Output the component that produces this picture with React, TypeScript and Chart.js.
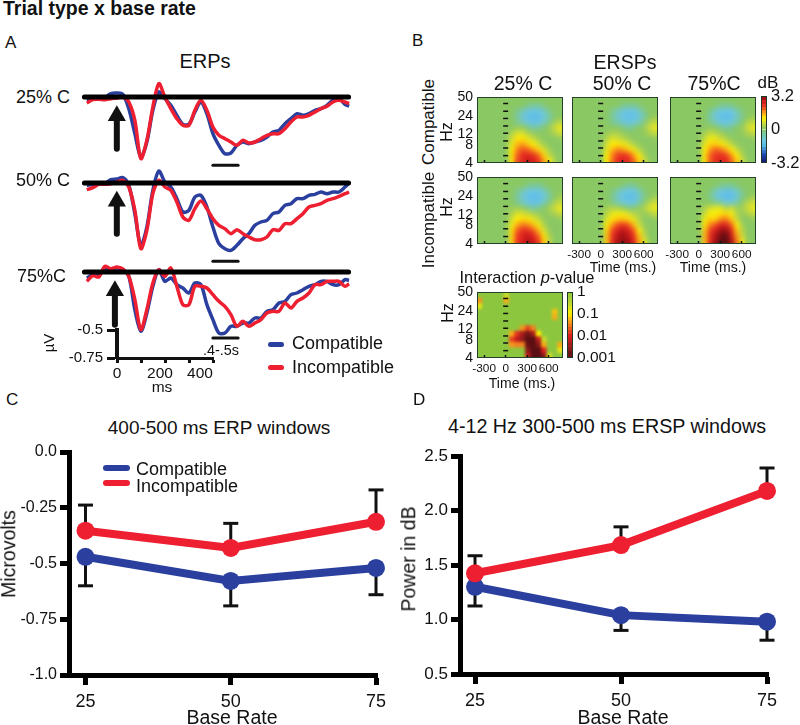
import React, { useEffect, useRef } from "react";
import { Chart, registerables } from "chart.js";

Chart.register(...registerables);
Chart.defaults.font.family = '"Liberation Sans", Arial, sans-serif';
Chart.defaults.color = "#111";

const BLUE = "#2b3f9e";
const RED = "#ed1f30";

/* ---------- Panel A: ERP traces (1/336 uV units) ---------- */
const UNITS_PER_UV = 336;
const erpTimes = [-125,-100,-75,-50,-25,0,25,50,75,100,125,150,175,200,225,250,275,300,325,350,375,400,425,450,475,500,525,550,575,600,625,650,675,700,725,750,775,800,825,850,875,900,925,950,967];
const erp25Blue = [-10,-6,-6,-2,10,12,8,-35,-110,-180,-135,-40,15,-5,-25,-55,-82,-82,-45,-15,-50,-110,-145,-170,-168,-145,-135,-140,-135,-130,-120,-105,-100,-80,-65,-50,-55,-50,-40,-35,-25,-10,-5,-22,-28];
const erp25Red = [-18,-8,-7,-8,-5,-3,0,-15,-70,-185,-130,-30,40,0,-35,-65,-85,-85,-40,-10,-40,-90,-115,-125,-135,-145,-130,-138,-135,-125,-115,-110,-110,-95,-75,-60,-60,-55,-45,-35,-28,-15,-10,-15,-20];
const erp50Blue = [-7,-4,-4,-2,10,12,16,-7,-92,-187,-132,-22,36,3,-12,-47,-87,-82,-42,-37,-72,-132,-182,-197,-202,-187,-167,-152,-127,-117,-112,-92,-87,-67,-62,-47,-47,-37,-34,-27,-32,-27,-27,-12,0];
const erp50Red = [-20,-14,-4,-4,-2,3,8,-12,-82,-197,-142,-32,8,-12,-22,-57,-102,-112,-77,-54,-77,-107,-127,-137,-152,-140,-152,-162,-170,-170,-162,-140,-142,-122,-122,-107,-92,-72,-67,-62,-52,-47,-40,-32,-27];
const erp75Blue = [-18,-8,-8,7,7,12,7,-13,-113,-178,-123,-43,7,-28,-18,-38,-48,-63,-33,-38,-98,-143,-183,-183,-163,-163,-153,-153,-138,-138,-118,-113,-93,-88,-68,-63,-53,-43,-38,-28,-28,-38,-38,-23,-25];
const erp75Red = [-28,-11,-15,17,10,15,9,-13,-83,-173,-113,-33,7,-13,12,-43,-98,-98,-43,-43,-48,-68,-88,-103,-128,-163,-148,-163,-153,-143,-123,-118,-118,-93,-108,-88,-78,-63,-38,-38,-28,-28,-28,-43,-35];
const erpBaselineSpan = [-135, 965];
const erpWindowSpan = [400, 505];
const erpWindowLevel = [-205, -235, -198];
const arrowTail = [-155, -152, -158];
const arrowHead = [-56, -55, -56];
const arrowTime = [0, 0, -8];

const scaleBarX = [0, 100, 200, 300, 400];
const scaleBarY = [-0.75, -0.5];

/* ---------- Panel B: ERSP maps (dB), 12 rows top (50 Hz) to bottom (4 Hz), 16 time columns ---------- */
const heatC25 = [
[0,0,0,0,0,0,0,0,0,0,0,0,0,0,0,0],
[0,0,0,0,0,0,0,0,0,-.3,-.4,-.4,-.2,0,0,0],
[0,0,0,0,0,0,0,-.3,-.7,-1,-1.2,-1.2,-.8,-.3,0,0],
[0,0,0,0,0,0,0,-.4,-.9,-1.3,-1.4,-1.4,-1,-.5,-.1,0],
[0,0,0,0,0,0,0,-.3,-.7,-1,-1.3,-1.2,-.8,-.3,.2,.4],
[0,0,0,0,0,0,0,.1,.1,-.2,-.5,-.4,-.1,.1,.6,.8],
[0,0,0,0,0,0,.3,.7,.7,.3,.1,0,0,.1,.3,.6],
[0,0,0,0,0,0,.6,1.1,1.1,.8,.5,.2,0,0,0,.1],
[0,0,0,0,0,0,.8,1.4,1.6,1.3,1,.6,.2,0,0,0],
[0,0,0,0,0,0,1,1.7,2,1.9,1.6,1.2,.7,.2,0,0],
[0,0,0,0,0,0,1.1,1.9,2.3,2.5,2.3,1.9,1.2,.5,.1,0],
[0,0,0,0,0,0,1.1,2,2.4,2.7,2.6,2.2,1.6,.9,.3,0],
];
const heatC50 = [
[0,0,0,0,0,0,0,0,0,0,0,0,0,0,0,0],
[0,0,0,0,0,0,0,0,0,-.3,-.4,-.4,-.2,0,0,0],
[0,0,0,0,0,0,0,-.3,-.7,-1,-1.2,-1.2,-.8,-.3,0,0],
[0,0,0,0,0,0,0,-.4,-.8,-1.2,-1.3,-1.3,-1,-.5,0,.1],
[0,0,0,0,0,0,0,-.3,-.6,-.9,-1.2,-1,-.7,-.2,.3,.5],
[0,0,0,0,0,0,0,0,0,-.2,-.4,-.3,0,.1,.6,.8],
[0,0,0,0,0,0,.1,.3,.3,.1,0,0,0,.1,.3,.5],
[0,0,0,0,0,0,.4,.7,.6,.4,.2,0,0,0,0,.1],
[0,0,0,0,0,0,.6,1,1.1,.9,.7,.3,.1,0,0,0],
[0,0,0,0,0,0,.8,1.4,1.7,1.6,1.3,.9,.4,.1,0,0],
[0,0,0,0,0,0,1,1.7,2.1,2.3,2.1,1.6,1,.3,0,0],
[0,0,0,0,0,0,1,1.8,2.3,2.5,2.4,1.9,1.3,.6,.1,0],
];
const heatC75 = [
[0,0,0,0,0,0,0,0,0,0,0,0,0,0,0,0],
[0,0,0,0,0,0,0,0,-.1,-.3,-.4,-.3,-.1,0,0,0],
[0,0,0,0,0,0,0,-.3,-.8,-1.1,-1.2,-1.1,-.6,-.2,0,0],
[0,0,0,0,0,0,0,-.5,-1,-1.3,-1.4,-1.3,-.8,-.3,0,.1],
[0,0,0,0,0,0,0,-.3,-.7,-1.1,-1.2,-1,-.6,-.1,.3,.5],
[0,0,0,0,0,0,0,.1,0,-.3,-.5,-.3,0,.1,.6,.8],
[0,0,0,0,0,0,.2,.5,.4,.2,0,-.1,0,.1,.3,.5],
[0,0,0,0,0,0,.5,.9,.8,.6,.3,.1,0,0,0,.1],
[0,0,0,0,0,0,.8,1.2,1.3,1.1,.8,.4,.1,0,0,0],
[0,0,0,0,0,0,1,1.6,1.9,1.8,1.5,1,.5,.1,0,0],
[0,0,0,0,0,0,1.1,1.9,2.2,2.3,2.1,1.6,1,.3,0,0],
[0,0,0,0,0,0,1.1,1.9,2.3,2.5,2.4,1.9,1.3,.6,.1,0],
];
const heatI25 = [
[0,0,0,0,0,0,0,0,0,0,0,0,0,0,0,0],
[0,0,0,0,0,0,0,0,0,-.3,-.4,-.4,-.2,0,0,0],
[0,0,0,0,0,0,0,-.3,-.7,-1.1,-1.2,-1.2,-.8,-.3,0,0],
[0,0,0,0,0,0,0,-.4,-.9,-1.3,-1.4,-1.4,-1,-.5,0,.2],
[0,0,0,0,0,0,0,-.3,-.7,-1.1,-1.3,-1.2,-.7,-.2,.3,.5],
[0,0,0,0,0,0,.1,.2,.1,-.2,-.5,-.3,0,.2,.6,.8],
[0,0,0,0,0,0,.3,.7,.7,.5,.3,.1,0,.1,.3,.5],
[0,0,0,0,0,0,.6,1,1.2,1.1,.8,.5,.1,0,0,.1],
[0,0,0,0,0,0,.9,1.5,1.8,1.7,1.4,.9,.3,0,0,0],
[0,0,0,0,0,0,1.1,1.9,2.3,2.3,2,1.4,.7,.1,0,0],
[0,0,0,0,0,0,1.2,2.1,2.5,2.7,2.5,1.9,1.1,.3,0,0],
[0,0,0,0,0,0,1.2,2.1,2.6,2.9,2.7,2.1,1.3,.5,0,0],
];
const heatI50 = [
[0,0,0,0,0,0,0,0,0,0,0,0,0,0,0,0],
[0,0,0,0,0,0,0,0,0,-.2,-.4,-.4,-.1,0,0,0],
[0,0,0,0,0,0,0,-.2,-.6,-1,-1.2,-1.2,-.7,-.2,0,0],
[0,0,0,0,0,0,0,-.3,-.8,-1.2,-1.4,-1.4,-.9,-.3,0,.2],
[0,0,0,0,0,0,0,-.2,-.6,-.9,-1.2,-1.1,-.6,-.1,.4,.6],
[0,0,0,0,0,0,.2,.3,.3,.1,-.2,-.2,.1,.3,.7,.8],
[0,0,0,0,0,0,.4,.8,.9,.9,.7,.4,.2,.1,.3,.5],
[0,0,0,0,0,0,.7,1.1,1.3,1.4,1.2,.8,.4,0,0,.1],
[0,0,0,0,0,0,1,1.6,2,2.2,2,1.4,.6,.1,0,0],
[0,0,0,0,0,0,1.2,2,2.6,2.8,2.6,2,1,.3,0,0],
[0,0,0,0,0,0,1.3,2.2,2.8,3,2.8,2.3,1.4,.5,0,0],
[0,0,0,0,0,0,1.3,2.3,2.9,3.1,3,2.5,1.6,.8,.1,0],
];
const heatI75 = [
[0,0,0,0,0,0,0,0,0,0,0,0,0,0,0,0],
[0,0,0,0,0,0,0,0,-.1,-.3,-.4,-.4,-.2,0,0,0],
[0,0,0,0,0,0,0,-.2,-.7,-1.1,-1.3,-1.3,-.8,-.3,0,0],
[0,0,0,0,0,0,0,-.3,-.8,-1.2,-1.4,-1.4,-1,-.3,0,.2],
[0,0,0,0,0,0,0,0,-.3,-.5,-.9,-.9,-.5,0,.4,.6],
[0,0,0,0,0,0,.3,.6,.8,.8,.3,.6,.2,.2,.6,.8],
[0,0,0,0,0,0,.5,1,.9,1.1,1.2,.9,.3,.1,.3,.5],
[0,0,0,0,0,0,.9,1.3,1.2,1.7,1.8,1.3,.6,0,0,.1],
[0,0,0,0,0,0,1.1,1.7,2,2.5,2.5,1.9,1,.2,0,0],
[0,0,0,0,0,0,1.3,2.1,2.6,3,3.1,2.4,1.3,.4,0,0],
[0,0,0,0,0,0,1.4,2.3,2.9,3.3,3.5,2.7,1.6,.6,0,0],
[0,0,0,0,0,0,1.4,2.4,3,3.5,3.6,2.9,1.8,.9,.1,0],
];
/* Interaction map: log10(p) */
const heatP = [
[0,0,0,0,0,-.6,0,0,0,0,0,0,0,0,0,0],
[-1.4,0,0,0,0,-1.3,0,0,0,0,0,0,0,0,0,0],
[-.8,0,0,0,0,0,0,0,0,0,0,0,0,0,0,0],
[0,0,0,0,0,0,0,0,0,0,0,0,0,0,-1.2,0],
[0,0,0,0,0,0,0,0,0,0,0,0,0,0,-1.3,0],
[0,0,0,0,0,0,0,0,0,0,0,0,0,0,0,0],
[0,0,0,0,0,0,0,0,-1.4,-1.8,-1.5,0,0,0,0,0],
[0,0,0,0,0,0,-1.3,-1.9,-2.4,-2.8,-2.4,-1,0,0,0,0],
[0,0,0,0,0,0,-1.8,-2.2,-2.6,-3,-3,-2.2,-.6,0,0,0],
[0,0,0,0,0,0,-1.4,-1.5,-1.5,-2.9,-3,-2.6,-1.3,0,0,-1.3],
[0,0,0,0,0,0,0,0,0,-2.6,-3,-3,-2,0,0,-.8],
[0,0,0,0,0,0,0,0,0,-2.2,-3,-3,-2.6,-.7,0,0],
];
const timeTicks = [-300, 0, 300, 600];
const hzTicks = [4, 8, 12, 24, 50];
const zeroDashHz = [39, 29, 22, 16.5, 12.5, 9.3, 7.1, 5.3];
const dbLevels = [-3.2,-2.9,-2.6,-2.3,-2,-1.7,-1.4,-1.1,-.8,-.5,-.25,0,.25,.5,.75,1,1.25,1.5,1.8,2.1,2.4,2.8,3.2];
const dbTicks = [-3.2, 0, 3.2];
const pLevels = [1,.8,.6,.45,.32,.22,.15,.1,.07,.05,.035,.025,.018,.012,.008,.005,.003,.002,.001];
const pTicks = [0.001, 0.01, 0.1, 1];

/* ---------- Panels C, D ---------- */
const baseRates = [25, 50, 75];
const erpCompat = [-0.47, -0.578, -0.52];
const erpIncompat = [-0.353, -0.43, -0.313];
const erpCompatLow = [-0.6, -0.69, -0.64];
const erpIncompatHigh = [-0.238, -0.32, -0.17];
const erpAxisTicks = [-1, -0.75, -0.5, -0.25, 0];
const erpAxisLabels = ["-1.0", "-0.75", "-0.5", "-0.25", "0.0"];
const powCompat = [1.3, 1.04, 0.98];
const powIncompat = [1.424, 1.683, 2.18];
const powCompatLow = [1.124, 0.9, 0.81];
const powIncompatHigh = [1.585, 1.85, 2.39];
const powAxisTicks = [0.5, 1, 1.5, 2, 2.5];

/* ---------- helpers ---------- */
type Rect = { l: number; t: number; r: number; b: number };
type Pad = { l: number; t: number; r: number; b: number };
const NOPAD: Pad = { l: 0, t: 0, r: 0, b: 0 };

const mix = (a: string, b: string, f: number) => {
  const p = (s: string, i: number) => parseInt(s.slice(1 + 2 * i, 3 + 2 * i), 16);
  const c = [0, 1, 2].map((i) => Math.round(p(a, i) + (p(b, i) - p(a, i)) * f));
  return `rgb(${c[0]},${c[1]},${c[2]})`;
};
const ramp = (stops: [number, string][], v: number) => {
  if (v <= stops[0][0]) return mix(stops[0][1], stops[0][1], 0);
  for (let i = 1; i < stops.length; i++) {
    if (v <= stops[i][0]) {
      const [a, ca] = stops[i - 1];
      const [b, cb] = stops[i];
      return mix(ca, cb, (v - a) / (b - a));
    }
  }
  return mix(stops[stops.length - 1][1], stops[stops.length - 1][1], 0);
};
const dbStops: [number, string][] = [
  [-3.2, "#16166e"], [-2.4, "#1f49b5"], [-1.6, "#58b8e6"], [-1.1, "#6dc7e4"], [-0.5, "#78c8a6"],
  [0, "#8ac864"], [0.6, "#cfdc3a"], [1, "#fff200"], [1.5, "#fbae17"], [2.1, "#ef3b24"], [2.6, "#d81f1f"], [3.0, "#a01015"], [3.5, "#5e0f12"],
];
const pStops: [number, string][] = [
  [-3, "#5a0f12"], [-2.6, "#8b1a1a"], [-2, "#e0201f"], [-1.4, "#f7941d"], [-1, "#fff200"], [-0.5, "#b9d532"], [0, "#8cc63f"],
];

const blurFrame = (blurPx: number, frameColor: string) => ({
  id: "blurFrame",
  beforeDraw(chart: any) { chart.$blurred = false; },
  beforeDatasetDraw(chart: any, args: any) {
    if (args.meta.type !== "scatter" || chart.$blurred) return;
    chart.$blurred = true;
    const { ctx, chartArea: a, canvas } = chart;
    ctx.save();
    ctx.beginPath();
    ctx.rect(a.left, a.top, a.right - a.left, a.bottom - a.top);
    ctx.clip();
    ctx.filter = `blur(${blurPx}px)`;
    ctx.drawImage(canvas, 0, 0, canvas.width, canvas.height);
    ctx.filter = "none";
    ctx.restore();
  },
  afterDraw(chart: any) {
    const { ctx, chartArea: a } = chart;
    ctx.save();
    ctx.strokeStyle = frameColor;
    ctx.lineWidth = 1;
    ctx.strokeRect(a.left + 0.5, a.top + 0.5, a.right - a.left - 1, a.bottom - a.top - 1);
    ctx.restore();
  },
});

type Spec = { rect: Rect; pad: Pad; config: any };

const noPad = (s: any) => { s.paddingTop = 0; s.paddingBottom = 0; s.paddingLeft = 0; s.paddingRight = 0; };
const fitX = (pad: Pad) => (s: any) => { s.height = pad.b; noPad(s); };
const fitY = (pad: Pad) => (s: any) => { s.width = pad.l; noPad(s); };
const setTicks = (vals: number[]) => (s: any) => { s.ticks = vals.map((value) => ({ value })); };

function erpSpec(base: number, idx: number, blue: number[], red: number[]): Spec {
  const toXY = (arr: number[]) => erpTimes.map((x, i) => ({ x, y: arr[i] / UNITS_PER_UV }));
  const line = (d: any[], color: string, w: number, order: number, extra = {}) => ({
    data: d, borderColor: color, backgroundColor: color, borderWidth: w, pointRadius: 0, order, ...extra,
  });
  return {
    rect: { l: 82, t: base - 20, r: 351, b: base + 80 },
    pad: NOPAD,
    config: {
      type: "line",
      data: {
        datasets: [
          line(toXY(blue), BLUE, 3.5, 3, { tension: 0.3 }),
          line(toXY(red), RED, 3.5, 2, { tension: 0.3 }),
          line(erpBaselineSpan.map((x) => ({ x, y: 0 })), "#000", 5, 1, { borderCapStyle: "round" }),
          line(erpWindowSpan.map((x) => ({ x, y: erpWindowLevel[idx] / UNITS_PER_UV })), "#111", 3, 1, { borderCapStyle: "round" }),
          line(
            [{ x: arrowTime[idx], y: arrowTail[idx] / UNITS_PER_UV }, { x: arrowTime[idx], y: arrowHead[idx] / UNITS_PER_UV }],
            "#111", 6, 0,
            { pointRadius: [0, 10.5], pointStyle: "triangle", borderCapStyle: "round", pointBorderWidth: 0 },
          ),
        ],
      },
      options: {
        scales: {
          x: { type: "linear", display: false, min: -145, max: 975 },
          y: { type: "linear", display: false, min: -240 / UNITS_PER_UV, max: 60 / UNITS_PER_UV },
        },
      },
    },
  };
}

function scaleBarSpec(): Spec {
  const pad: Pad = { l: 60, t: 8, r: 6, b: 12 };
  return {
    rect: { l: 117, t: 330, r: 213, b: 358 },
    pad,
    config: {
      type: "line",
      data: { datasets: [] },
      options: {
        scales: {
          x: {
            type: "linear", min: 0, max: 400, afterFit: fitX(pad), afterBuildTicks: setTicks(scaleBarX),
            grid: { drawOnChartArea: false, tickLength: 5, tickWidth: 3, tickColor: "#111" },
            border: { display: true, width: 3, color: "#111" },
            ticks: { display: false },
          },
          y: {
            type: "linear", min: -0.75, max: -0.5, afterFit: fitY(pad), afterBuildTicks: setTicks(scaleBarY),
            grid: { drawOnChartArea: false, tickLength: 10, tickWidth: 3, tickColor: "#111" },
            border: { display: true, width: 4, color: "#111" },
            ticks: { font: { size: 15 }, padding: 4, color: "#111", callback: (v: number) => (v === -0.5 ? "-0.5" : "-0.75") },
          },
        },
      },
    },
  };
}

function heatSpec(rect: Rect, rows: number[][], color: (v: number) => string, showY: boolean, showX: boolean, blur: number): Spec {
  const pad: Pad = { l: 36, t: 9, r: 4, b: 26 };
  const cols = rows[0].map((_, i) => String(i));
  const bars = rows.map((row, r) => ({
    type: "bar",
    data: row.map(() => [r, r + 1]),
    backgroundColor: row.map(color),
    borderWidth: 0,
    barPercentage: 1,
    categoryPercentage: 1,
    grouped: false,
    xAxisID: "xc",
    yAxisID: "yr",
    order: 2,
  }));
  const dashes = {
    type: "scatter",
    data: zeroDashHz.map((y) => ({ x: 0, y })),
    xAxisID: "x",
    yAxisID: "y",
    pointStyle: "line",
    pointRadius: 2.5,
    borderColor: "#111",
    backgroundColor: "#111",
    pointBorderWidth: 1.5,
    order: 1,
  };
  return {
    rect,
    pad,
    config: {
      type: "bar",
      data: { labels: cols, datasets: [...bars, dashes] },
      plugins: [blurFrame(blur, "#23402a")],
      options: {
        scales: {
          xc: { type: "category", axis: "x", position: "bottom", offset: true, display: false },
          yr: { type: "linear", axis: "y", position: "left", reverse: true, min: 0, max: rows.length, display: false },
          x: {
            type: "linear", position: "bottom", offset: false, min: -400, max: 800, afterFit: fitX(pad), afterBuildTicks: setTicks(timeTicks),
            grid: { offset: false, drawOnChartArea: false, tickLength: -3, tickWidth: 1.5, tickColor: "#111", z: 2 },
            border: { display: false },
            ticks: { display: showX, z: 2, font: { size: 11.8 }, padding: 7, maxRotation: 0, autoSkip: false, callback: (v: number) => String(v) },
          },
          y: {
            type: "logarithmic", position: "left", min: 4, max: 50, afterFit: fitY(pad), afterBuildTicks: setTicks(hzTicks),
            grid: { drawOnChartArea: false, drawTicks: false, z: 2 },
            border: { display: false },
            ticks: { display: showY, z: 2, font: { size: 14 }, padding: 4, autoSkip: false, callback: (v: number) => String(v) },
          },
        },
      },
    },
  };
}

function barSpec(rect: Rect, levels: number[], ticks: number[], color: (lo: number, hi: number) => string, log: boolean, labelSize: number): Spec {
  const pad: Pad = { l: 0, t: 11, r: 46, b: 11 };
  const segs = levels.slice(1).map((v, i) => ({
    data: [[levels[i], v]],
    backgroundColor: color(levels[i], v),
    borderWidth: 0,
    barPercentage: 1,
    categoryPercentage: 1,
    grouped: false,
  }));
  return {
    rect,
    pad,
    config: {
      type: "bar",
      data: { labels: ["scale"], datasets: segs },
      plugins: [blurFrame(0, "#1f3a24")],
      options: {
        scales: {
          x: { type: "category", display: false, offset: true },
          y: {
            type: log ? "logarithmic" : "linear", position: "right",
            min: ticks[0], max: ticks[ticks.length - 1], afterBuildTicks: setTicks(ticks),
            afterFit: (s: any) => { s.width = pad.r; noPad(s); },
            grid: { drawOnChartArea: false, drawTicks: false },
            border: { display: false },
            ticks: { autoSkip: false, padding: 4, font: { size: labelSize }, callback: (v: number) => String(v) },
          },
        },
      },
    },
  };
}

function summarySpec(
  rect: Rect, xMin: number, xMax: number, yTicks: number[], yLabel: (v: number) => string,
  compat: number[], incompat: number[], low: number[], high: number[], ySize: number,
): Spec {
  const pad: Pad = { l: 60, t: 10, r: 14, b: 36 };
  const series = (vals: number[], color: string, order: number) => ({
    data: baseRates.map((x, i) => ({ x, y: vals[i] })),
    borderColor: color, backgroundColor: color, borderWidth: 8, pointRadius: 9, pointBorderWidth: 0, order, clip: false,
  });
  const bars = (vals: number[], ends: number[]) => baseRates.map((x, i) => ({
    data: [{ x, y: vals[i] }, { x, y: ends[i] }],
    borderColor: "#111", backgroundColor: "#111", borderWidth: 3,
    pointStyle: "line", pointRadius: [0, 7.5], pointBorderWidth: 3, order: 5, clip: false,
  }));
  return {
    rect,
    pad,
    config: {
      type: "line",
      data: { datasets: [series(compat, BLUE, 2), series(incompat, RED, 1), ...bars(compat, low), ...bars(incompat, high)] },
      options: {
        scales: {
          x: {
            type: "linear", min: xMin, max: xMax, afterFit: fitX(pad), afterBuildTicks: setTicks(baseRates),
            grid: { drawOnChartArea: false, tickLength: 10, tickWidth: 5, tickColor: "#000" },
            border: { display: true, width: 5, color: "#000" },
            ticks: { font: { size: 18 }, padding: 6, color: "#111", callback: (v: number) => String(v) },
          },
          y: {
            type: "linear", min: yTicks[0], max: yTicks[yTicks.length - 1], afterFit: fitY(pad), afterBuildTicks: setTicks(yTicks),
            grid: { drawOnChartArea: false, tickLength: 9, tickWidth: 5, tickColor: "#000" },
            border: { display: true, width: 5, color: "#000" },
            ticks: { font: { size: ySize }, padding: 3, color: "#111", callback: yLabel },
          },
        },
      },
    },
  };
}

const dbColor = (v: number) => ramp(dbStops, v);
const pColor = (v: number) => ramp(pStops, v);
const cols = [{ l: 477, r: 563 }, { l: 572, r: 658 }, { l: 670, r: 756 }];
const row1 = { t: 97, b: 163 };
const row2 = { t: 177, b: 244 };

const specs: Spec[] = [
  erpSpec(97, 0, erp25Blue, erp25Red),
  erpSpec(183, 1, erp50Blue, erp50Red),
  erpSpec(272, 2, erp75Blue, erp75Red),
  scaleBarSpec(),
  heatSpec({ ...cols[0], ...row1 }, heatC25, dbColor, true, false, 2.6),
  heatSpec({ ...cols[1], ...row1 }, heatC50, dbColor, false, false, 2.6),
  heatSpec({ ...cols[2], ...row1 }, heatC75, dbColor, false, false, 2.6),
  heatSpec({ ...cols[0], ...row2 }, heatI25, dbColor, true, false, 2.6),
  heatSpec({ ...cols[1], ...row2 }, heatI50, dbColor, false, true, 2.6),
  heatSpec({ ...cols[2], ...row2 }, heatI75, dbColor, false, true, 2.6),
  heatSpec({ l: 477, r: 563, t: 292, b: 358 }, heatP, pColor, true, true, 1.8),
  barSpec({ l: 761, r: 767, t: 96, b: 163 }, dbLevels, dbTicks, (a, b) => dbColor((a + b) / 2), false, 16.5),
  barSpec({ l: 567, r: 573, t: 292, b: 358 }, pLevels.slice().reverse(), pTicks, (a, b) => pColor(Math.log10(Math.sqrt(a * b))), true, 15.5),
  summarySpec({ l: 69, t: 452, r: 377, b: 675 }, 22.16, 75.17, erpAxisTicks, (v: number) => erpAxisLabels[erpAxisTicks.indexOf(v)], erpCompat, erpIncompat, erpCompatLow, erpIncompatHigh, 16),
  summarySpec({ l: 460, t: 456, r: 768, b: 674 }, 22.43, 75.17, powAxisTicks, (v: number) => v.toFixed(1), powCompat, powIncompat, powCompatLow, powIncompatHigh, 17),
];

type TxtProps = { x: number; y: number; s: number; rot?: number; left?: boolean; bold?: boolean; children: React.ReactNode };
const Txt = ({ x, y, s, rot, left, bold, children }: TxtProps) => (
  <div style={{
    position: "absolute", left: x, top: y, fontSize: s, lineHeight: 1, whiteSpace: "nowrap", color: "#111",
    fontWeight: bold ? 700 : 400,
    transform: `translate(${left ? "0" : "-50%"},-50%)${rot ? ` rotate(${rot}deg)` : ""}`,
  }}>{children}</div>
);
const Swatch = ({ x, y, w, h, c }: { x: number; y: number; w: number; h: number; c: string }) => (
  <div style={{ position: "absolute", left: x, top: y - h / 2, width: w, height: h, borderRadius: h / 2, background: c }} />
);

export default function App() {
  const refs = useRef<(HTMLCanvasElement | null)[]>([]);
  useEffect(() => {
    const charts = specs.map((spec, i) => {
      const { config, pad } = spec;
      const yAxis = config.options.scales.y;
      const rightAxis = yAxis.position === "right";
      return new Chart(refs.current[i] as HTMLCanvasElement, {
        ...config,
        options: {
          ...config.options,
          animation: false,
          responsive: false,
          layout: { autoPadding: false, padding: { left: yAxis.display === false ? pad.l : 0, top: pad.t, right: rightAxis ? 0 : pad.r, bottom: config.options.scales.x.display === false ? pad.b : 0 } },
          plugins: { legend: { display: false }, tooltip: { enabled: false }, title: { display: false } },
        },
      });
    });
    return () => charts.forEach((c) => c.destroy());
  }, []);

  return (
    <div style={{ position: "absolute", left: 0, top: 0, width: 800, height: 725, overflow: "hidden", background: "#fff", fontFamily: '"Liberation Sans", Arial, sans-serif' }}>
      {specs.map(({ rect, pad }, i) => {
        const w = rect.r - rect.l + pad.l + pad.r;
        const h = rect.b - rect.t + pad.t + pad.b;
        return (
          <canvas key={i} ref={(el) => { refs.current[i] = el; }} width={w} height={h}
            style={{ position: "absolute", left: rect.l - pad.l, top: rect.t - pad.t, width: w, height: h }} />
        );
      })}

      <Txt x={3} y={9} s={19.5} left bold>Trial type x base rate</Txt>
      <Txt x={5} y={42} s={17} left>A</Txt>
      <Txt x={412} y={40} s={17} left>B</Txt>
      <Txt x={6} y={399} s={17} left>C</Txt>
      <Txt x={413} y={399} s={17} left>D</Txt>

      <Txt x={205} y={61} s={20}>ERPs</Txt>
      <Txt x={16} y={97} s={18} left>25% C</Txt>
      <Txt x={16} y={180} s={18} left>50% C</Txt>
      <Txt x={17} y={276} s={18} left>75%C</Txt>
      <Txt x={48} y={343} s={15} rot={-90}>µV</Txt>
      <Txt x={117} y={373} s={15.5}>0</Txt>
      <Txt x={160} y={373} s={15.5}>200</Txt>
      <Txt x={200} y={373} s={15.5}>400</Txt>
      <Txt x={162} y={387} s={15.5}>ms</Txt>
      <Txt x={221} y={350} s={14.4}>.4-.5s</Txt>
      <Swatch x={268} y={344} w={16} h={5} c={BLUE} />
      <Swatch x={268} y={367} w={16} h={5} c={RED} />
      <Txt x={292} y={343} s={18} left>Compatible</Txt>
      <Txt x={292} y={367} s={18} left>Incompatible</Txt>

      <Txt x={625} y={63} s={19.5}>ERSPs</Txt>
      <Txt x={523} y={84} s={19.5}>25% C</Txt>
      <Txt x={622} y={84} s={19.5}>50% C</Txt>
      <Txt x={714} y={84} s={19.5}>75%C</Txt>
      <Txt x={768} y={82} s={17}>dB</Txt>
      <Txt x={428} y={122} s={17} rot={-90}>Compatible</Txt>
      <Txt x={428} y={220} s={17} rot={-90}>Incompatible</Txt>
      <Txt x={447} y={132} s={16} rot={-90}>Hz</Txt>
      <Txt x={447} y={207} s={16} rot={-90}>Hz</Txt>
      <Txt x={448} y={313} s={16} rot={-90}>Hz</Txt>
      <Txt x={623} y={267} s={14}>Time (ms.)</Txt>
      <Txt x={713} y={267} s={14}>Time (ms.)</Txt>
      <Txt x={522} y={383} s={14}>Time (ms.)</Txt>
      <Txt x={527} y={277} s={16.4}>Interaction <i>p</i>-value</Txt>

      <Txt x={219} y={427} s={19}>400-500 ms ERP windows</Txt>
      <Swatch x={103} y={468} w={27} h={6} c={BLUE} />
      <Swatch x={103} y={483} w={27} h={6} c={RED} />
      <Txt x={136} y={469} s={18} left>Compatible</Txt>
      <Txt x={136} y={486} s={18} left>Incompatible</Txt>
      <Txt x={9} y={554} s={19.5} rot={-90}>Microvolts</Txt>
      <Txt x={232} y={718} s={19.5}>Base Rate</Txt>

      <Txt x={607} y={427} s={19.7}>4-12 Hz 300-500 ms ERSP windows</Txt>
      <Txt x={409} y={559} s={19.5} rot={-90}>Power in dB</Txt>
      <Txt x={623} y={718} s={19.5}>Base Rate</Txt>
    </div>
  );
}
